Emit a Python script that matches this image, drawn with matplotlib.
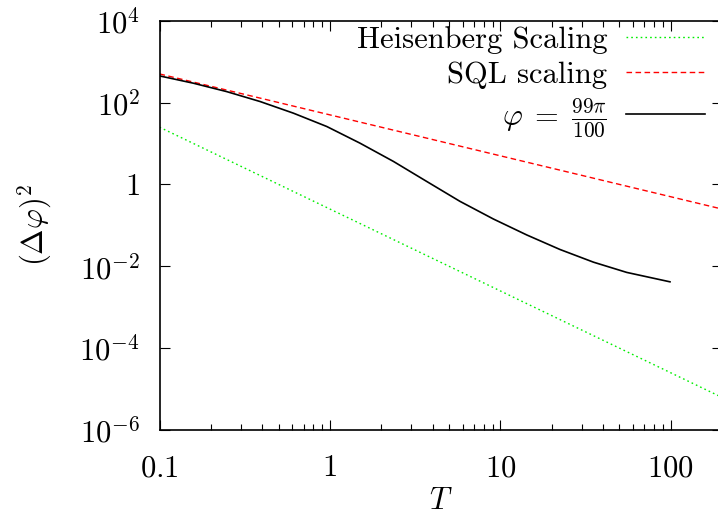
import matplotlib
matplotlib.use("Agg")
import matplotlib.pyplot as plt
import matplotlib.ticker as mticker
import numpy as np

plt.rcParams['mathtext.fontset'] = 'cm'
plt.rcParams['font.family'] = 'serif'
plt.rcParams['font.serif'] = ['cmr10', 'DejaVu Serif']
plt.rcParams['axes.formatter.use_mathtext'] = True
plt.rcParams['font.size'] = 22

# straight reference lines (two end points each)
T_ends = [0.1, 200]
heis = [25, 6.25e-6]
sql = [500, 0.25]

# phase curve, points
T_phi = [0.1, 0.158, 0.248, 0.389, 0.61, 0.958, 1.50, 2.36, 3.70, 5.80,
         9.10, 14.3, 22.4, 35.2, 55.2, 99]
phi_var = [448, 297, 185, 106, 55.1, 26.0, 10.2, 3.64, 1.18, 0.385,
           0.143, 0.0582, 0.0257, 0.0126, 0.00708, 0.00417]

xticks = [0.1, 1, 10, 100]
xlabels = ['0.1', '1', '10', '100']
yticks = [1e-6, 1e-4, 1e-2, 1, 1e2, 1e4]
ylabels = [r'$10^{-6}$', r'$10^{-4}$', r'$10^{-2}$', r'$1$', r'$10^{2}$', r'$10^{4}$']

fig = plt.figure(figsize=(7.18, 5.24), dpi=100)
ax = fig.add_axes([0.2222, 0.1794, 0.7834, 0.7811])

ax.plot(T_ends, heis, color='#00ee00', lw=1.0, ls=(0, (1.2, 2.2)), label='Heisenberg Scaling')
ax.plot(T_ends, sql, color='#ff0000', lw=1.0, ls=(0, (4, 2.5)), label='SQL scaling')
ax.plot(T_phi, phi_var, color='black', lw=1.2, label=r'$\varphi\;=\;\frac{99\pi}{100}$')

ax.set_xscale('log')
ax.set_yscale('log')
ax.set_xlim(0.1, 200)
ax.set_ylim(1e-6, 1e4)

ax.set_xticks(xticks)
ax.set_xticklabels([r'$%s$' % s for s in xlabels])
ax.xaxis.set_minor_locator(mticker.LogLocator(base=10, subs=np.arange(2, 10)))
ax.xaxis.set_minor_formatter(mticker.NullFormatter())
ax.set_yticks(yticks)
ax.set_yticklabels(ylabels)
ax.yaxis.set_minor_locator(mticker.NullLocator())

ax.tick_params(which='both', direction='in', top=True, right=True)
ax.tick_params(which='major', length=7, width=0.8)
ax.tick_params(which='minor', length=4, width=0.8)
ax.tick_params(axis='x', pad=18)
ax.tick_params(axis='y', pad=14)
for s in ax.spines.values():
    s.set_linewidth(1.2)

ax.set_xlabel(r'$T$', labelpad=4)
ax.set_ylabel(r'$(\Delta\varphi)^2$', labelpad=18)

leg = ax.legend(loc='upper right', bbox_to_anchor=(705 / 718, 1 - 26 / 524),
                bbox_transform=fig.transFigure, frameon=False, markerfirst=False,
                handlelength=2.6, handletextpad=0.6, labelspacing=0.25,
                borderpad=0, borderaxespad=0)

fig.savefig('out.png', dpi=100)
